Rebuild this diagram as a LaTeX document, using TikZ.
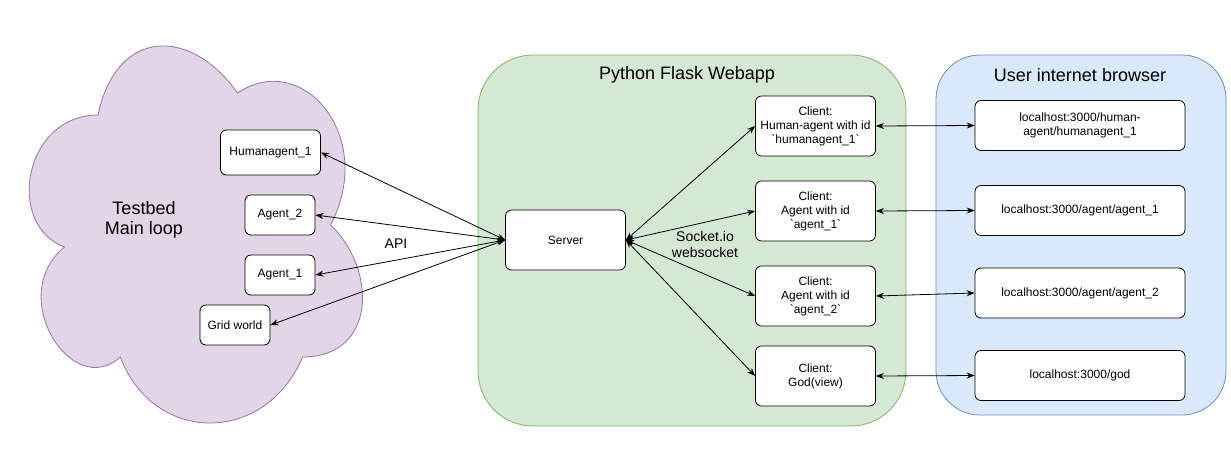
\documentclass[tikz,border=0pt]{standalone}
\usepackage{fontspec}
\setmainfont{Liberation Sans}[Ligatures=TeXOff]
\usetikzlibrary{arrows.meta, positioning}
\usepackage{xcolor}
\definecolor{cloudfill}{HTML}{E1D5E7}
\definecolor{cloudline}{HTML}{9673A6}
\definecolor{flaskfill}{HTML}{D5E8D4}
\definecolor{flaskline}{HTML}{82B366}
\definecolor{browserfill}{HTML}{DAE8FC}
\definecolor{browserline}{HTML}{6C8EBF}
\def\clientx{815.5}
\def\browserx{1080}

\begin{document}
\begin{tikzpicture}[x=1pt, y=-1pt, line width=0.8pt]
    \tikzstyle{link}=[<->, >={Stealth[length=8pt,width=6pt]}, draw=black]
    \tikzstyle{box}=[draw=black, fill=white, rounded corners=6pt, align=center, inner sep=0pt, font=\fontsize{12}{14}\selectfont]
    \tikzstyle{agent box}=[box, minimum width=70pt, minimum height=40pt]
    \tikzstyle{client box}=[box, minimum width=120pt, minimum height=60pt]
    \tikzstyle{url box}=[box, minimum width=210pt, minimum height=50pt]
    \tikzstyle{title}=[align=center, font=\fontsize{18}{20}\selectfont]
    \tikzstyle{annot}=[align=center, font=\fontsize{14}{16}\selectfont]

    \useasboundingbox (0,0) rectangle (1231,451);

    % containers
    \begin{scope}[shift={(5,5)}, x=372pt, y=-440pt]
    \draw[fill=cloudfill, draw=cloudline] (0.25,0.25)
        .. controls (0.05,0.25) and (0,0.5) .. (0.16,0.55)
        .. controls (0,0.66) and (0.18,0.9) .. (0.31,0.8)
        .. controls (0.4,1) and (0.7,1) .. (0.8,0.8)
        .. controls (1,0.8) and (1,0.6) .. (0.875,0.5)
        .. controls (1,0.3) and (0.8,0.1) .. (0.625,0.2)
        .. controls (0.5,0.05) and (0.3,0.05) .. (0.25,0.25) -- cycle;
    \end{scope}
    \draw[fill=flaskfill, draw=flaskline, rounded corners=55pt] (478,55) rectangle (906,426);
    \draw[fill=browserfill, draw=browserline, rounded corners=44pt] (936,55) rectangle (1226,415);

    \node[title] (testbed) at (144,220) {Testbed\\Main loop};
    \node[title] (flask) at (687,75) {Python Flask Webapp};
    \node[title] (browser) at (1080,75) {User internet browser};

    \node[box, minimum width=100pt, minimum height=45pt] (H-1) at (270.5,152.5) {Humanagent\_1};
    \node[agent box] (A-2) at (280,215) {Agent\_2};
    \node[agent box] (A-1) at (280,275) {Agent\_1};
    \node[agent box] (G) at (235,325) {Grid world};

    \node[client box] (S) at (565.5,240) {Server};

    \node[client box] (C-1) at (\clientx,126) {Client:\\Human-agent with id\\`humanagent\_1`};
    \node[client box] (C-2) at (\clientx,211) {Client:\\Agent with id\\`agent\_1`};
    \node[client box] (C-3) at (\clientx,296) {Client:\\Agent with id\\`agent\_2`};
    \node[client box] (C-4) at (\clientx,376) {Client:\\God(view)};

    \node[url box] (U-1) at (\browserx,125.5) {localhost:3000/human-\\agent/humanagent\_1};
    \node[url box] (U-2) at (\browserx,210.5) {localhost:3000/agent/agent\_1};
    \node[url box] (U-3) at (\browserx,293) {localhost:3000/agent/agent\_2};
    \node[url box] (U-4) at (\browserx,375.5) {localhost:3000/god};

    \draw[link] (H-1.east) -- (S.west);
    \draw[link] (A-2.east) -- (S.west);
    \draw[link] (A-1.east) -- (S.west);
    \draw[link] (G.east) -- (S.west);
    \node[annot] (api) at (396,244) {API};

    \draw[link] (S.east) -- (C-1.west);
    \draw[link] (S.east) -- (C-2.west);
    \draw[link] (S.east) -- (C-3.west);
    \draw[link] (S.east) -- (C-4.west);
    \node[annot] (socket) at (705,244) {Socket.io\\websocket};

    \draw[link] (C-1.east) -- (U-1.west);
    \draw[link] (C-2.east) -- (U-2.west);
    \draw[link] (C-3.east) -- (U-3.west);
    \draw[link] (C-4.east) -- (U-4.west);
\end{tikzpicture}
\end{document}
